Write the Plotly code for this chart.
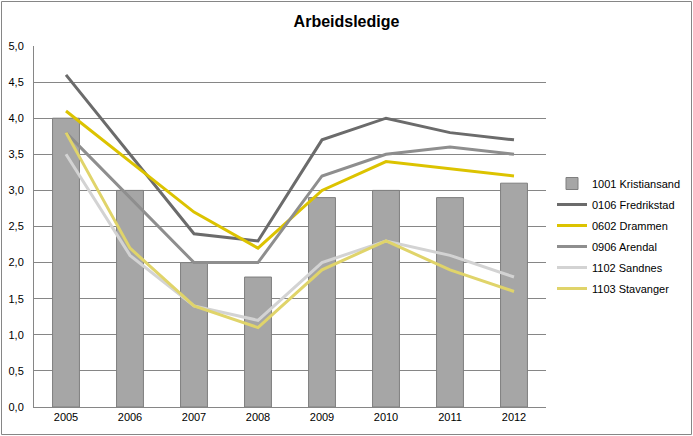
import plotly.graph_objects as go

years = ["2005", "2006", "2007", "2008", "2009", "2010", "2011", "2012"]
kristiansand = [4.0, 3.0, 2.0, 1.8, 2.9, 3.0, 2.9, 3.1]
fredrikstad = [4.6, 3.5, 2.4, 2.3, 3.7, 4.0, 3.8, 3.7]
drammen = [4.1, 3.4, 2.7, 2.2, 3.0, 3.4, 3.3, 3.2]
arendal = [3.8, 2.9, 2.0, 2.0, 3.2, 3.5, 3.6, 3.5]
sandnes = [3.5, 2.1, 1.4, 1.2, 2.0, 2.3, 2.1, 1.8]
stavanger = [3.8, 2.2, 1.4, 1.1, 1.9, 2.3, 1.9, 1.6]

FONT = "Liberation Sans, Arial, sans-serif"

fig = go.Figure()
fig.add_trace(go.Bar(x=years, y=kristiansand, name="1001 Kristiansand", legendgroup="g0",
                     marker=dict(color="#A6A6A6", line=dict(color="#7F7F7F", width=1))))
lines = [
    ("0106 Fredrikstad", fredrikstad, "#6B6B6B"),
    ("0602 Drammen", drammen, "#DCC300"),
    ("0906 Arendal", arendal, "#8E8E8E"),
    ("1102 Sandnes", sandnes, "#D3D3D3"),
    ("1103 Stavanger", stavanger, "#E0D46A"),
]
for i, (name, vals, col) in enumerate(lines):
    fig.add_trace(go.Scatter(x=years, y=vals, name=name, mode="lines", legendgroup=f"g{i+1}",
                             line=dict(color=col, width=3)))

L, R, T, B = 34, 147, 46, 29
W, H = 693, 436
pw, ph = W - L - R, H - T - B

fig.update_layout(
    width=W, height=H,
    margin=dict(l=L, r=R, t=T, b=B, pad=0, autoexpand=False),
    paper_bgcolor="white", plot_bgcolor="white",
    separators=", ",
    font=dict(family=FONT, size=11, color="#000000"),
    title=dict(text="<b>Arbeidsledige</b>", x=0.5, xref="container", xanchor="center",
               y=1 - 21 / H, yref="container", yanchor="middle",
               font=dict(family=FONT, size=16, color="#000000")),
    bargap=0.58,
    showlegend=True,
    legend=dict(x=552 / W, xref="container", xanchor="left",
                y=1 - 236 / H, yref="container", yanchor="middle",
                font=dict(family=FONT, size=11, color="#000000"),
                bgcolor="rgba(0,0,0,0)", traceorder="grouped", tracegroupgap=2,
                itemwidth=30),
    xaxis=dict(type="category", showline=True, linecolor="#868686", linewidth=1,
               showgrid=False, ticks="", tickfont=dict(size=11), automargin=False),
    yaxis=dict(range=[0, 5], dtick=0.5, tickformat=".1f", showline=True,
               linecolor="#868686", linewidth=1, showgrid=True, gridcolor="#868686",
               gridwidth=1, ticks="outside", ticklen=7, tickcolor="rgba(0,0,0,0)",
               zeroline=False, tickfont=dict(size=11), automargin=False),
    shapes=[dict(type="rect", xref="paper", yref="paper",
                 x0=(1.5 - L) / pw, x1=(W - 1.5 - L) / pw,
                 y0=(T + ph - (H - 1.5)) / ph, y1=(T + ph - 1.5) / ph,
                 line=dict(color="#868686", width=1), fillcolor="rgba(0,0,0,0)",
                 layer="below")],
)

fig.write_html("out.html", config={"displayModeBar": False},
               post_script="document.body.style.margin='0';")
